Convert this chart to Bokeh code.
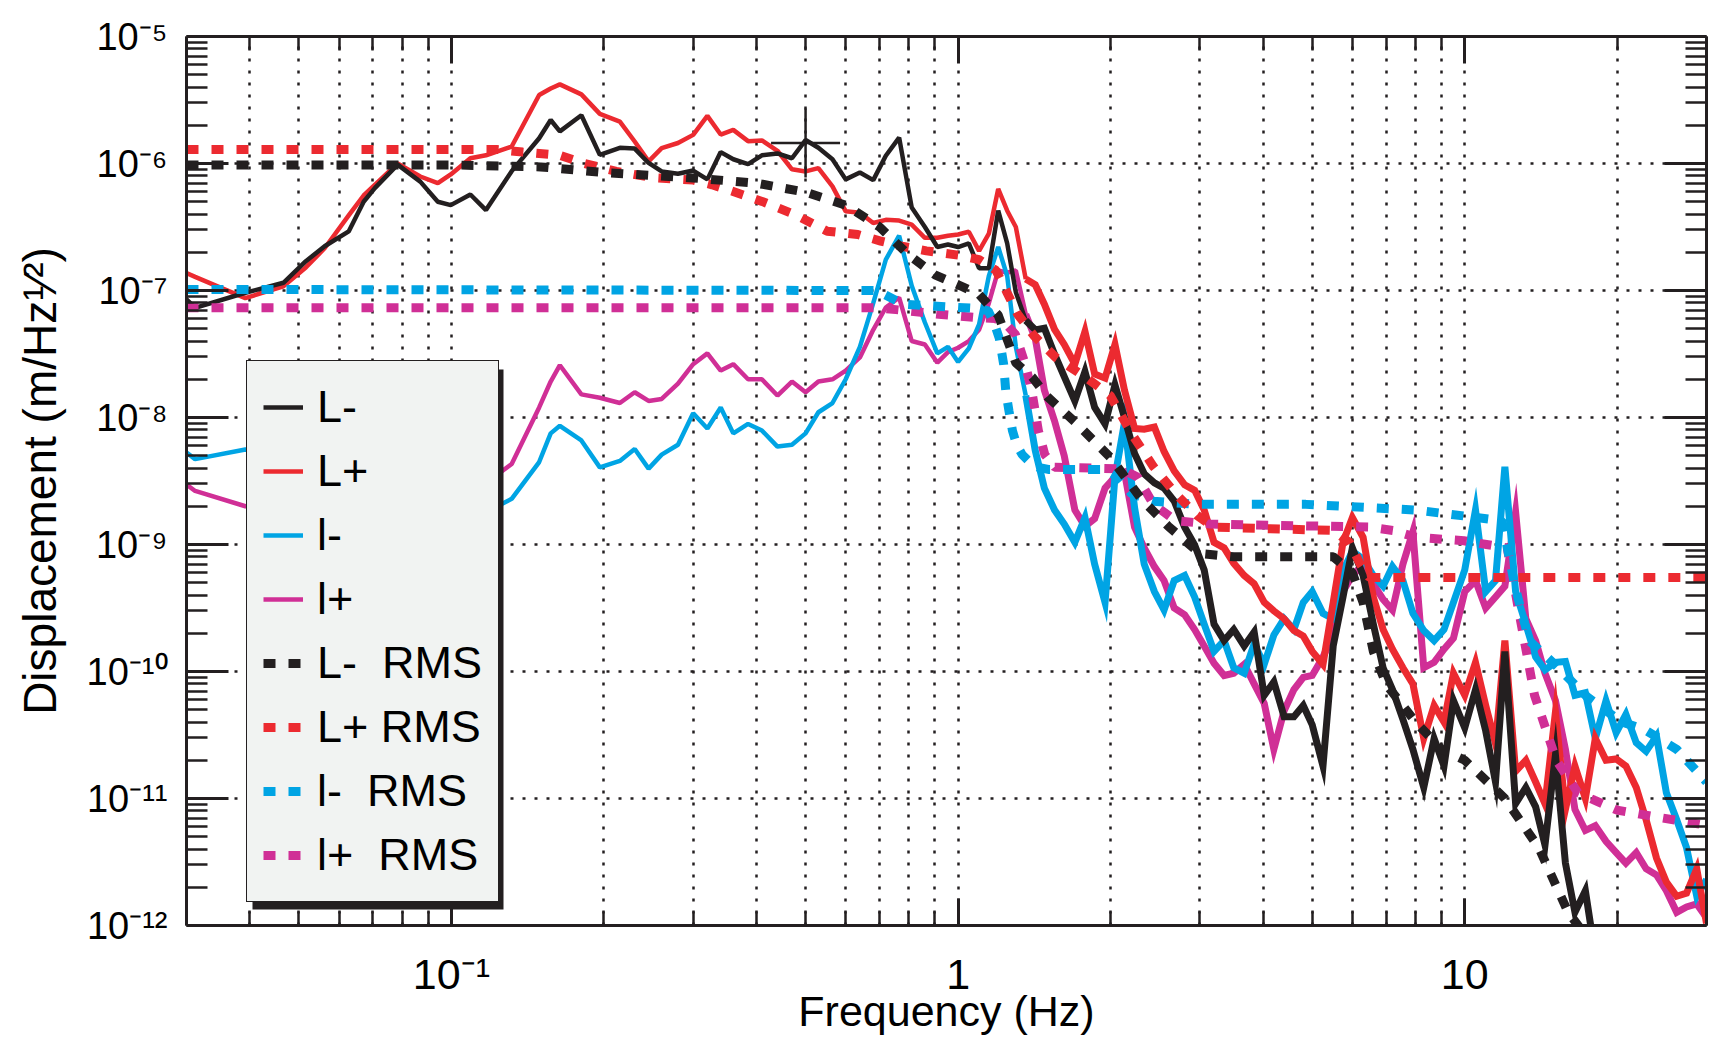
from bokeh.plotting import figure
from bokeh.models import (FixedTicker, LogAxis, Legend, LegendItem, BoxAnnotation,
                          CustomJSTickFormatter)
from bokeh.embed import file_html
from bokeh.resources import INLINE

# ---------------- data ----------------
freq = [0.0300, 0.0312, 0.0392, 0.0466, 0.0516, 0.0562, 0.0627, 0.0671, 0.0706, 0.0783,
        0.0868, 0.0940, 0.0997, 0.109, 0.117, 0.1315, 0.149, 0.157, 0.1637, 0.1805,
        0.1963, 0.215, 0.23, 0.245, 0.26, 0.28, 0.30, 0.32, 0.34, 0.36,
        0.385, 0.41, 0.44, 0.47, 0.50, 0.53, 0.565, 0.60, 0.64, 0.68,
        0.72, 0.765, 0.81, 0.86, 0.91, 0.955, 1.00, 1.05, 1.10, 1.15,
        1.20, 1.25, 1.30, 1.36, 1.42, 1.48, 1.55, 1.62, 1.70, 1.78,
        1.86, 1.95, 2.04, 2.13, 2.23, 2.33, 2.44, 2.55, 2.67, 2.80,
        2.93, 3.06, 3.20, 3.35, 3.50, 3.67, 3.84, 4.02, 4.20, 4.40,
        4.60, 4.80, 5.00, 5.25, 5.50, 5.75, 6.00, 6.30, 6.60, 6.90,
        7.20, 7.55, 7.90, 8.30, 8.70, 9.10, 9.50, 10.0, 10.5, 11.0,
        11.5, 12.0, 12.6, 13.2, 13.8, 14.4, 15.1, 15.8, 16.5, 17.3,
        18.1, 19.0, 19.9, 20.8, 21.8, 22.8, 23.9, 25.0, 26.2, 27.4,
        28.7, 30.0]

L_minus = [8.5e-8, 7.3e-8, 9.6e-8, 1.15e-7, 1.7e-7, 2.23e-7, 2.92e-7, 5.0e-7, 6.4e-7, 9.8e-7,
           7.2e-7, 5.0e-7, 4.7e-7, 5.7e-7, 4.3e-7, 8.7e-7, 1.58e-6, 2.2e-6, 1.79e-6, 2.4e-6,
           1.17e-6, 1.33e-6, 1.31e-6, 1.01e-6, 8.66e-7, 8.3e-7, 8.8e-7, 7.5e-7, 1.23e-6, 1.08e-6,
           9.9e-7, 1.16e-6, 1.2e-6, 1.1e-6, 1.53e-6, 1.33e-6, 1.08e-6, 7.5e-7, 8.5e-7, 7.4e-7,
           1.15e-6, 1.6e-6, 4.5e-7, 3.16e-7, 2.2e-7, 2.3e-7, 2.2e-7, 2.35e-7, 1.5e-7, 1.5e-7,
           4.25e-7, 2.35e-7, 9.7e-8, 5.8e-8, 4.9e-8, 5.05e-8, 3.15e-8, 2.1e-8, 1.35e-8, 2.3e-8,
           1.2e-8, 8.9e-9, 1.8e-8, 1.0e-8, 5.2e-9, 3.6e-9, 3.06e-9, 2.78e-9, 2.2e-9, 1.37e-9,
           9.9e-10, 6.3e-10, 2.36e-10, 1.75e-10, 2.14e-10, 1.59e-10, 2.05e-10, 6.5e-11, 8.3e-11, 4.4e-11,
           4.4e-11, 5.4e-11, 3.8e-11, 1.8e-11, 1.59e-10, 3.86e-10, 9.4e-10, 5.7e-10, 2.36e-10, 1.07e-10,
           7.2e-11, 4.2e-11, 2.44e-11, 1.22e-11, 2.97e-11, 1.8e-11, 5.9e-11, 3.6e-11, 7.2e-11, 3.4e-11,
           1.35e-11, 1.44e-10, 9.1e-12, 1.22e-11, 8.6e-12, 4.3e-12, 2.2e-11, 3.1e-12, 1.27e-12, 1.88e-12,
           5.8e-13, 5e-13, 4e-13, 4e-13, 3e-13, 3e-13, 3e-13, 2e-13, 2e-13, 2e-13,
           2e-13, 2e-13]

L_plus = [1.37e-7, 1.28e-7, 8.7e-8, 1.08e-7, 1.52e-7, 2.15e-7, 3.9e-7, 5.6e-7, 6.8e-7, 1.0e-6,
          7.9e-7, 7.0e-7, 8.2e-7, 1.1e-6, 1.16e-6, 1.36e-6, 3.46e-6, 3.9e-6, 4.2e-6, 3.5e-6,
          2.46e-6, 2.14e-6, 1.49e-6, 1.04e-6, 1.32e-6, 1.45e-6, 1.68e-6, 2.37e-6, 1.69e-6, 1.84e-6,
          1.5e-6, 1.52e-6, 1.26e-6, 9.0e-7, 8.66e-7, 9.2e-7, 6.6e-7, 4.2e-7, 4.1e-7, 3.4e-7,
          3.6e-7, 3.55e-7, 3.3e-7, 2.6e-7, 2.6e-7, 2.7e-7, 2.76e-7, 2.9e-7, 2.05e-7, 2.8e-7,
          6.3e-7, 4.25e-7, 3.16e-7, 1.23e-7, 1.11e-7, 7.8e-8, 4.95e-8, 3.76e-8, 2.63e-8, 4.76e-8,
          2.2e-8, 2.04e-8, 3.76e-8, 1.64e-8, 8.2e-9, 8.1e-9, 8.4e-9, 5.4e-9, 3.8e-9, 2.95e-9,
          2.67e-9, 1.87e-9, 1.04e-9, 9.4e-10, 7.1e-10, 5.7e-10, 4.9e-10, 3.5e-10, 3.0e-10, 2.6e-10,
          2.1e-10, 1.9e-10, 1.44e-10, 1.14e-10, 3.5e-10, 1.04e-9, 1.63e-9, 1.14e-9, 3.86e-10, 2.14e-10,
          1.5e-10, 1.07e-10, 8.0e-11, 2.97e-11, 5.4e-11, 4.0e-11, 9.7e-11, 6.5e-11, 1.18e-10, 5.4e-11,
          2.7e-11, 1.75e-10, 1.64e-11, 2.0e-11, 1.35e-11, 9.1e-12, 4.8e-11, 8.2e-12, 1.8e-11, 1.0e-11,
          2.97e-11, 2.0e-11, 2.05e-11, 1.8e-11, 1.22e-11, 6.8e-12, 3.4e-12, 2.2e-12, 1.7e-12, 1.8e-12,
          2.8e-12, 1.04e-12]

l_minus = [5.3e-9, 4.7e-9, 5.6e-9, 5.0e-9, 4.55e-9, 4.1e-9, 3.4e-9, 3.06e-9, 2.78e-9, 2.52e-9,
           2.28e-9, 2.07e-9, 1.87e-9, 1.7e-9, 1.8e-9, 2.29e-9, 4.46e-9, 7.5e-9, 8.6e-9, 6.6e-9,
           4.05e-9, 4.55e-9, 5.65e-9, 3.96e-9, 5.1e-9, 6.1e-9, 1.08e-8, 8.2e-9, 1.2e-8, 7.5e-9,
           8.9e-9, 7.9e-9, 5.9e-9, 6.1e-9, 7.5e-9, 1.1e-8, 1.3e-8, 2.0e-8, 3.6e-8, 7.95e-8,
           1.75e-7, 2.7e-7, 1.09e-7, 5.6e-8, 3.2e-8, 3.6e-8, 2.74e-8, 3.5e-8, 5.4e-8, 1.3e-7,
           2.2e-7, 1.3e-7, 3.6e-8, 1.49e-8, 5.5e-9, 2.78e-9, 1.87e-9, 1.45e-9, 1.04e-9, 1.63e-9,
           7.0e-10, 3.5e-10, 3.4e-9, 9.1e-9, 1.95e-9, 7.0e-10, 4.26e-10, 3.05e-10, 5.2e-10, 5.7e-10,
           3.86e-10, 2.36e-10, 1.44e-10, 1.75e-10, 1.07e-10, 9.7e-11, 1.65e-10, 1.14e-10, 1.94e-10, 2.6e-10,
           2.14e-10, 3.5e-10, 4.26e-10, 2.87e-10, 2.6e-10, 6.2e-10, 8.85e-10, 7.7e-10, 5.7e-10, 4.7e-10,
           6.7e-10, 5.2e-10, 2.87e-10, 2.1e-10, 1.75e-10, 2.14e-10, 3.5e-10, 6.3e-10, 1.87e-9, 4.26e-10,
           5.2e-10, 4.1e-9, 4.26e-10, 2.36e-10, 1.3e-10, 1.03e-10, 1.18e-10, 1.2e-10, 6.5e-11, 6.8e-11,
           2.97e-11, 5.9e-11, 3.3e-11, 4.6e-11, 2.75e-11, 2.35e-11, 3.1e-11, 1.11e-11, 6.8e-12, 4.1e-12,
           1.7e-12, 2.3e-12]

l_plus = [2.97e-9, 2.64e-9, 2.0e-9, 1.87e-9, 1.8e-9, 1.73e-9, 1.7e-9, 1.73e-9, 1.8e-9, 1.95e-9,
          2.19e-9, 2.47e-9, 2.67e-9, 2.89e-9, 3.06e-9, 4.3e-9, 1.2e-8, 1.92e-8, 2.58e-8, 1.52e-8,
          1.43e-8, 1.3e-8, 1.58e-8, 1.35e-8, 1.4e-8, 1.85e-8, 2.63e-8, 3.2e-8, 2.34e-8, 2.63e-8,
          2.0e-8, 2.0e-8, 1.49e-8, 1.92e-8, 1.58e-8, 1.92e-8, 2.0e-8, 2.34e-8, 2.97e-8, 4.9e-8,
          7.35e-8, 8.8e-8, 4.0e-8, 3.76e-8, 2.7e-8, 3.27e-8, 3.54e-8, 4.0e-8, 4.9e-8, 7.95e-8,
          1.44e-7, 1.38e-7, 1.44e-7, 6.5e-8, 4.2e-8, 1.64e-8, 9.4e-9, 5.0e-9, 1.87e-9, 1.39e-9,
          1.6e-9, 2.78e-9, 3.4e-9, 3.7e-9, 1.37e-9, 9.4e-10, 6.7e-10, 5.2e-10, 3.16e-10, 2.8e-10,
          2.14e-10, 1.59e-10, 1.16e-10, 9.3e-11, 9.7e-11, 1.14e-10, 8.0e-11, 5.6e-11, 2.44e-11, 4.9e-11,
          7.2e-11, 9.0e-11, 9.3e-11, 1.3e-10, 1.94e-10, 4.26e-10, 5.7e-10, 7.0e-10, 4.9e-10, 3.7e-10,
          3.05e-10, 7.0e-10, 1.26e-9, 1.07e-10, 1.18e-10, 1.5e-10, 1.83e-10, 4.26e-10, 5.2e-10, 3.16e-10,
          3.86e-10, 4.7e-10, 1.8e-9, 2.6e-10, 1.75e-10, 9.7e-11, 5.9e-11, 2.44e-11, 8.2e-12, 5.6e-12,
          6.1e-12, 4.6e-12, 3.75e-12, 3.1e-12, 3.75e-12, 2.8e-12, 2.5e-12, 1.88e-12, 1.27e-12, 1.4e-12,
          1.48e-12, 1.15e-12]

L_minus_rms_f = [0.03, 0.1, 0.15, 0.2, 0.3, 0.4, 0.5, 0.6, 0.7, 0.8, 0.9, 1.0, 1.1, 1.2, 1.3, 1.4,
                 1.5, 1.7, 2.0, 2.3, 2.6, 3.0, 3.5, 4.0, 5.0, 5.5, 6.0, 6.3, 6.6, 7.0, 8.0, 9.0,
                 10.0, 12.0, 14.0, 16.0, 20.0, 30.0]
L_minus_rms = [9.75e-7, 9.75e-7, 9.4e-7, 8.5e-7, 7.7e-7, 7.0e-7, 5.95e-7, 4.7e-7, 3.16e-7, 1.9e-7,
               1.33e-7, 1.11e-7, 9.3e-8, 6.4e-8, 2.69e-8, 2.08e-8, 1.46e-8, 9.25e-9, 4.83e-9, 2.28e-9,
               1.39e-9, 8.5e-10, 8.0e-10, 8.0e-10, 8.0e-10, 8.0e-10, 6.0e-10, 3.5e-10, 1.44e-10, 7.9e-11,
               4.0e-11, 2.44e-11, 2.0e-11, 1.0e-11, 4.1e-12, 1.27e-12, 3.9e-13, 1.45e-13]

L_plus_rms_f = [0.03, 0.1228, 0.1382, 0.1636, 0.1815, 0.2115, 0.2527, 0.3004, 0.3268, 0.3572,
                0.4103, 0.4783, 0.5517, 0.6339, 0.7034, 0.78, 0.866, 1.0, 1.10, 1.188,
                1.248, 1.311, 1.412, 1.559, 1.808, 1.996, 2.20, 2.43, 2.686, 2.96,
                3.19, 5.50, 5.92, 6.22, 6.48, 30.0]
L_plus_rms = [1.29e-6, 1.29e-6, 1.23e-6, 1.16e-6, 1.01e-6, 8.66e-7, 7.7e-7, 7.4e-7, 6.8e-7, 6.07e-7,
              5.03e-7, 3.93e-7, 2.93e-7, 2.76e-7, 2.45e-7, 2.22e-7, 2.05e-7, 1.9e-7, 1.75e-7, 1.44e-7,
              9.7e-8, 6.5e-8, 4.4e-8, 2.97e-8, 2.0e-8, 1.49e-8, 7.45e-9, 4.1e-9, 2.52e-9, 1.7e-9,
              1.37e-9, 1.29e-9, 1.04e-9, 7.0e-10, 5.5e-10, 5.5e-10]

l_minus_rms_f = [0.03, 0.69, 0.78, 1.10, 1.147, 1.182, 1.206, 1.23, 1.242, 1.26, 1.28, 1.305,
                 1.338, 1.378, 1.44, 1.506, 1.948, 2.066, 2.20, 2.43, 2.96, 4.86, 7.97, 10.2,
                 11.84, 12.56, 13.4, 15.05, 17.45, 20.4, 22.6, 26.2, 30.0]
l_minus_rms = [1.02e-7, 1.0e-7, 7.8e-8, 7.2e-8, 6.9e-8, 5.35e-8, 4.2e-8, 2.63e-8, 1.61e-8, 1.13e-8,
               7.9e-9, 6.1e-9, 5.1e-9, 4.55e-9, 4.05e-9, 3.9e-9, 3.9e-9, 3.4e-9, 2.52e-9, 2.19e-9,
               2.07e-9, 2.07e-9, 1.87e-9, 1.66e-9, 1.54e-9, 4.7e-10, 1.75e-10, 1.14e-10, 6.3e-11, 4.0e-11,
               3.5e-11, 2.44e-11, 1.35e-11]

l_plus_rms_f = [0.03, 0.69, 0.754, 0.928, 1.10, 1.182, 1.248, 1.298, 1.357, 1.398, 1.419, 1.44,
                1.483, 1.551, 2.097, 2.259, 2.43, 2.686, 3.146, 6.51, 7.22, 8.01, 9.96, 11.04,
                12.13, 12.75, 13.73, 15.16, 16.73, 18.02, 19.99, 23.65, 30.0]
l_plus_rms = [7.3e-8, 7.3e-8, 7.07e-8, 6.47e-8, 6.1e-8, 6.03e-8, 5.35e-8, 4.5e-8, 2.63e-8, 1.61e-8,
              1.13e-8, 7.9e-9, 5.1e-9, 4.05e-9, 3.95e-9, 3.4e-9, 2.07e-9, 1.54e-9, 1.45e-9, 1.37e-9,
              1.29e-9, 1.14e-9, 1.07e-9, 1.0e-9, 9.4e-10, 3.16e-10, 6.5e-11, 2.0e-11, 1.11e-11, 9.7e-12,
              8.1e-12, 7.2e-12, 6.15e-12]

cursor_f = [0.5]
cursor_v = [1.45e-6]

legend_labels = ["L-", "L+", "l-", "l+", "L-  RMS", "L+ RMS", "l-  RMS", "l+  RMS"]
x_tick_exps = [-1, 0, 1]
x_tick_labels = ["10\u207b\u00b9", "1", "10"]
y_tick_exps = [-12, -11, -10, -9, -8, -7, -6, -5]
y_tick_labels = ["10\u207b\u00b9\u00b2", "10\u207b\u00b9\u00b9", "10\u207b\u00b9\u2070", "10\u207b\u2079",
                 "10\u207b\u2078", "10\u207b\u2077", "10\u207b\u2076", "10\u207b\u2075"]
x_title = "Frequency (Hz)"
y_title = "Displacement (m/Hz\u00b9\u2044\u00b2)"

# ---------------- styling ----------------
INK = "#231f20"
RED = "#ec2a30"
BLUE = "#00a4e4"
MAG = "#d02f96"
FONT = "Liberation Sans"

x_major = [0.1, 1.0, 10.0]
x_minor = [m * 10.0 ** e for e in (-2, -1, 0, 1) for m in range(2, 10) if 0.03 <= m * 10.0 ** e <= 30]
y_major = [10.0 ** k for k in y_tick_exps]
y_minor = [m * 10.0 ** e for e in range(-12, -5) for m in range(2, 10)]

p = figure(width=1709, height=1037, x_axis_type="log", y_axis_type="log",
           x_range=(0.03, 30), y_range=(1e-12, 1e-5),
           output_backend="svg", toolbar_location=None,
           min_border_left=186, min_border_right=3, min_border_top=36, min_border_bottom=109,
           background_fill_color="white", border_fill_color="white")
p.outline_line_color = None

xt = FixedTicker(ticks=x_major, minor_ticks=x_minor)
yt = FixedTicker(ticks=y_major, minor_ticks=y_minor)
LOOKUP = """
const k = Math.round(Math.log10(tick));
const i = exps.indexOf(k);
return i >= 0 ? labs[i] : "";
"""
x_fmt = CustomJSTickFormatter(args=dict(exps=x_tick_exps, labs=x_tick_labels), code=LOOKUP)
y_fmt = CustomJSTickFormatter(args=dict(exps=y_tick_exps, labs=y_tick_labels), code=LOOKUP)
blank = CustomJSTickFormatter(code="return '';")

top_axis = LogAxis()
right_axis = LogAxis()
p.add_layout(top_axis, "above")
p.add_layout(right_axis, "right")


def style_axis(ax, ticker, major_len, minor_len):
    ax.ticker = ticker
    ax.axis_line_color = INK
    ax.axis_line_width = 3
    ax.major_tick_in = major_len
    ax.major_tick_out = 0
    ax.minor_tick_in = minor_len
    ax.minor_tick_out = 0
    ax.major_tick_line_color = INK
    ax.major_tick_line_width = 3
    ax.minor_tick_line_color = INK
    ax.minor_tick_line_width = 2.5
    ax.major_label_text_font = FONT
    ax.major_label_text_color = "black"
    ax.axis_label_text_font = FONT
    ax.axis_label_text_font_style = "normal"
    ax.axis_label_text_color = "black"


bottom_axis = p.below[0]
left_axis = p.left[0]
style_axis(bottom_axis, xt, 27, 14)
style_axis(top_axis, xt, 27, 14)
style_axis(left_axis, yt, 42, 21)
style_axis(right_axis, yt, 42, 21)

for ax in (top_axis, right_axis):
    ax.formatter = blank
    ax.major_label_text_font_size = "10px"
    ax.major_label_standoff = 0
    ax.axis_label = None

bottom_axis.formatter = x_fmt
bottom_axis.major_label_text_font_size = "43px"
bottom_axis.major_label_standoff = 24
bottom_axis.axis_label = x_title
bottom_axis.axis_label_text_font_size = "43px"
bottom_axis.axis_label_standoff = -14

left_axis.formatter = y_fmt
left_axis.major_label_text_font_size = "38px"
left_axis.major_label_standoff = 19
left_axis.axis_label = y_title
left_axis.axis_label_text_font_size = "46px"
left_axis.axis_label_standoff = 18

p.xgrid.ticker = xt
p.ygrid.ticker = yt
p.xgrid.grid_line_color = INK
p.xgrid.grid_line_dash = "3 9"
p.xgrid.grid_line_width = 2.5
p.xgrid.minor_grid_line_color = INK
p.xgrid.minor_grid_line_dash = "3 9"
p.xgrid.minor_grid_line_width = 2.5
p.ygrid.grid_line_color = INK
p.ygrid.grid_line_dash = "3 9"
p.ygrid.grid_line_width = 2.5

# spectra: thin stroke below ~1.36 Hz, heavier (noisy band look) above
SPLIT = freq.index(1.36)
LW_LOW, LW_HIGH = 4.5, 7


def spectrum(vals, color):
    r = p.line(freq[:SPLIT + 1], vals[:SPLIT + 1], line_color=color, line_width=LW_LOW)
    p.line(freq[SPLIT:], vals[SPLIT:], line_color=color, line_width=LW_HIGH, line_join="miter")
    return r


r_lp = spectrum(l_plus, MAG)
r_lm = spectrum(l_minus, BLUE)
r_Lp = spectrum(L_plus, RED)
r_Lm = spectrum(L_minus, INK)
# RMS
DASH = "12 13"
r_lp_rms = p.line(l_plus_rms_f, l_plus_rms, line_color=MAG, line_width=9, line_dash=DASH)
r_lm_rms = p.line(l_minus_rms_f, l_minus_rms, line_color=BLUE, line_width=9, line_dash=DASH)
r_Lp_rms = p.line(L_plus_rms_f, L_plus_rms, line_color=RED, line_width=9, line_dash=DASH)
r_Lm_rms = p.line(L_minus_rms_f, L_minus_rms, line_color=INK, line_width=9, line_dash=DASH)

p.scatter(cursor_f, cursor_v, marker="cross", size=69, line_color=INK, line_width=2.5)

# legend with shadow
LEG_X, LEG_Y, LEG_W, LEG_H = 60, 23, 251, 540
shadow = BoxAnnotation(left=LEG_X + 6, right=LEG_X + LEG_W + 6, bottom=LEG_Y - 7, top=LEG_Y + LEG_H - 7,
                       left_units="screen", right_units="screen", top_units="screen", bottom_units="screen",
                       fill_color=INK, fill_alpha=1.0, line_color=None)
p.add_layout(shadow)

rends = [r_Lm, r_Lp, r_lm, r_lp, r_Lm_rms, r_Lp_rms, r_lm_rms, r_lp_rms]
legend = Legend(items=[LegendItem(label=lab, renderers=[r]) for lab, r in zip(legend_labels, rends)],
                location=(LEG_X, LEG_Y), orientation="vertical",
                background_fill_color="#f1f3f2", background_fill_alpha=1.0,
                border_line_color=INK, border_line_width=1.5, border_line_alpha=1.0,
                label_text_font=FONT, label_text_font_size="45px", label_text_color="black",
                glyph_width=40, glyph_height=12, label_height=60, label_standoff=14,
                padding=16, spacing=4, margin=0)
p.add_layout(legend)

open("out.html", "w").write(file_html(p, INLINE))
